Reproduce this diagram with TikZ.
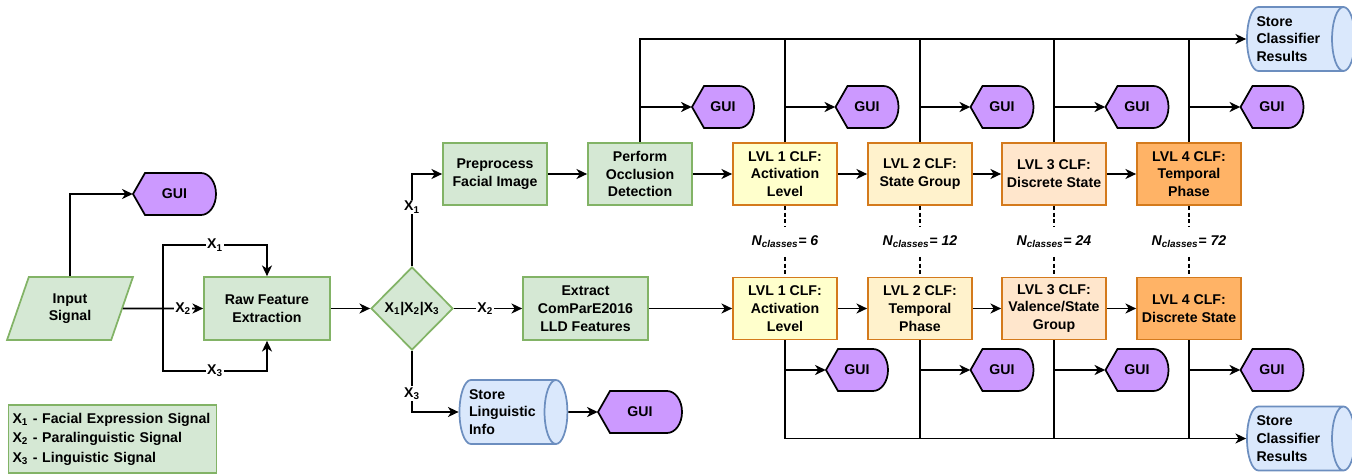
\documentclass[tikz,border=0pt]{standalone}
\usepackage{fontspec}
\setmainfont{Liberation Sans}
\usepackage{xcolor}
\usepackage{tikz}
\usetikzlibrary{shapes.geometric, arrows.meta, positioning, calc}
\definecolor{procfill}{HTML}{D5E8D4}
\definecolor{procdraw}{HTML}{82B366}
\definecolor{guifill}{HTML}{CC99FF}
\definecolor{storefill}{HTML}{DAE8FC}
\definecolor{storedraw}{HTML}{6C8EBF}
\definecolor{clfdraw}{HTML}{D47A1C}
\definecolor{lvlone}{HTML}{FFFFCC}
\definecolor{lvltwo}{HTML}{FFF2CC}
\definecolor{lvlthree}{HTML}{FFE6CC}
\definecolor{lvlfour}{HTML}{FFB366}
\newcommand{\nodefont}{\fontsize{10.6}{13.3}\selectfont}
\tikzset{proc/.style={rectangle,draw=procdraw,fill=procfill,line width=1.3pt,align=center,minimum width=78pt,minimum height=46.5pt,inner sep=2pt},
         clf/.style={rectangle,draw=clfdraw,line width=1.3pt,align=center,minimum width=78pt,minimum height=46.5pt,inner sep=2pt},
         decision/.style={diamond,draw=procdraw,fill=procfill,line width=1.3pt,aspect=1,inner sep=0pt,minimum width=61.5pt,minimum height=62.25pt},
         inputio/.style={trapezium,trapezium left angle=71,trapezium right angle=109,trapezium stretches=true,draw=procdraw,fill=procfill,line width=1.3pt,align=center,minimum width=94.5pt,minimum height=47.25pt},
         store/.style={cylinder,draw=storedraw,fill=storefill,line width=1.3pt,aspect=0.45,minimum height=78.75pt,minimum width=48pt,inner sep=2pt,text width=54pt,align=left},
         guitext/.style={inner sep=0pt,minimum height=31.5pt},
         guishape/.style={draw=black,fill=guifill,line width=1.3pt},
         legendbox/.style={rectangle,draw=procdraw,fill=procfill,line width=1.3pt,align=left,text width=150pt,minimum height=51pt,inner sep=3pt,font=\bfseries\fontsize{10.6}{14.6}\selectfont},
         lbl/.style={fill=white,inner sep=1pt},
         ncls/.style={inner sep=0pt,minimum height=22pt,font=\bfseries\itshape\nodefont},
         classlink/.style={dash pattern=on 3pt off 2pt,line width=1.4pt},
         link/.style={line width=1.4pt},
         arrow/.style={-{Stealth[length=8pt,width=7.5pt,inset=2.4pt]},line width=1.4pt}}
% GUI display shape: name, x, y, width
\newcommand{\guinode}[4]{%
  \draw[guishape] ($(#2,#3)+(-#4/2,0)$) -- ++(12,-21) -- ($(#2,#3)+(#4/2-15,-21)$)
    arc[start angle=-90,end angle=90,x radius=15,y radius=21] -- ($(#2,#3)+(-#4/2+12,21)$) -- cycle;
  \node[guitext,minimum width=#4*0.75pt] (#1) at (#2,#3) {GUI};}

\begin{document}
\begin{tikzpicture}[x=0.75pt,y=-0.75pt,every node/.style={font=\bfseries\nodefont}]
    \useasboundingbox (0,0) rectangle (1352,474);
    % Input and feature extraction
    \node (insig) at (70,308.5) [inputio]{Input\\Signal};
    \guinode{guiin}{174.5}{194}{83}
    \node (rawfe) at (267,308.5) [proc,minimum width=94.5pt,minimum height=47.25pt]{Raw Feature\\Extraction};
    \node (sel) at (412,308.5) [decision]{X\textsubscript{1}|X\textsubscript{2}|X\textsubscript{3}};
    \coordinate (split) at (163,308.5);
    % Modality branches
    \node (prep) at (495,174) [proc]{Preprocess\\Facial Image};
    \node (occl) at (640,174) [proc]{Perform\\Occlusion\\Detection};
    \node (llds) at (585.5,308.5) [proc,minimum width=93.75pt,minimum height=47.25pt]{Extract\\ComParE2016\\LLD Features};
    \node (stling) at (505,412) [store]{Store\\Linguistic\\Info};
    \guinode{guiling}{640}{412}{84}
    % Facial classifier chain
    \node (fc1) at (785,174) [clf,fill=lvlone]{LVL 1 CLF:\\Activation\\Level};
    \node (fc2) at (920,174) [clf,fill=lvltwo]{LVL 2 CLF:\\State Group};
    \node (fc3) at (1054,174) [clf,fill=lvlthree]{LVL 3 CLF:\\Discrete State};
    \node (fc4) at (1189,174) [clf,fill=lvlfour]{LVL 4 CLF:\\Temporal\\Phase};
    % Paralinguistic classifier chain
    \node (pc1) at (785,308.5) [clf,fill=lvlone]{LVL 1 CLF:\\Activation\\Level};
    \node (pc2) at (920,308.5) [clf,fill=lvltwo]{LVL 2 CLF:\\Temporal\\Phase};
    \node (pc3) at (1054,308.5) [clf,fill=lvlthree]{LVL 3 CLF:\\Valence/State\\Group};
    \node (pc4) at (1189,308.5) [clf,fill=lvlfour]{LVL 4 CLF:\\Discrete State};
    % Class counts
    \node (ncA) at (785,242) [ncls]{N\textsubscript{classes}= 6};
    \node (ncB) at (920,242) [ncls]{N\textsubscript{classes}= 12};
    \node (ncC) at (1054,242) [ncls]{N\textsubscript{classes}= 24};
    \node (ncD) at (1189,242) [ncls]{N\textsubscript{classes}= 72};
    % GUIs
    \guinode{guiocc}{723}{107}{62}
    \guinode{guifa}{867}{107}{63}
    \guinode{guifb}{1002}{107}{63}
    \guinode{guifc}{1137}{107}{63}
    \guinode{guifd}{1272}{107}{63}
    \guinode{guipa}{857}{370}{62}
    \guinode{guipb}{1002}{370}{63}
    \guinode{guipc}{1137}{370}{63}
    \guinode{guipd}{1272}{370}{63}
    % Result stores
    \node (stface) at (1292.5,39) [store]{Store\\Classifier\\Results};
    \node (stpara) at (1292.5,438.5) [store]{Store\\Classifier\\Results};
    % Legend
    \node (legend) at (112.5,439) [legendbox]{X\textsubscript{1} - Facial Expression Signal\\X\textsubscript{2} - Paralinguistic Signal\\X\textsubscript{3} - Linguistic Signal};
    % Connectors
    \draw[arrow] (insig.north) |- (guiin.west);
    \draw[arrow] (insig.east) -- node[lbl,pos=0.75]{X\textsubscript{2}} (rawfe.west);
    \draw[arrow] (split) |- node[lbl,pos=0.75]{X\textsubscript{1}} ($(rawfe.north)+(0,-31)$) -- (rawfe.north);
    \draw[arrow] (split) |- node[lbl,pos=0.75]{X\textsubscript{3}} ($(rawfe.south)+(0,30)$) -- (rawfe.south);
    \draw[arrow] (rawfe) -- (sel);
    \draw[arrow] (sel.north) |- node[lbl,pos=0.32]{X\textsubscript{1}} (prep.west);
    \draw[arrow] (sel.east) -- node[lbl,pos=0.46]{X\textsubscript{2}} (llds.west);
    \draw[arrow] (sel.south) |- node[lbl,pos=0.35]{X\textsubscript{3}} (stling.west);
    \draw[arrow] (stling.east) -- (guiling.west);
    \draw[arrow] (prep) -- (occl);
    \draw[arrow] (occl) -- (fc1);
    \draw[arrow] (llds) -- (pc1);
    \draw[arrow] (fc1) -- (fc2);
    \draw[arrow] (fc2) -- (fc3);
    \draw[arrow] (fc3) -- (fc4);
    \draw[arrow] (pc1) -- (pc2);
    \draw[arrow] (pc2) -- (pc3);
    \draw[arrow] (pc3) -- (pc4);
    % Upper bus
    \draw[arrow] (occl.north) |- (stface.west);
    \draw[arrow] (occl.north |- guiocc.west) -- (guiocc.west);
    \draw[link] (fc1.north) -- (fc1.north |- stface.west);
    \draw[link] (fc2.north) -- (fc2.north |- stface.west);
    \draw[link] (fc3.north) -- (fc3.north |- stface.west);
    \draw[link] (fc4.north) -- (fc4.north |- stface.west);
    \draw[arrow] (fc1.north |- guifa.west) -- (guifa.west);
    \draw[arrow] (fc2.north |- guifb.west) -- (guifb.west);
    \draw[arrow] (fc3.north |- guifc.west) -- (guifc.west);
    \draw[arrow] (fc4.north |- guifd.west) -- (guifd.west);
    % Lower bus
    \draw[arrow] (pc1.south) |- (stpara.west);
    \draw[link] (pc2.south) -- (pc2.south |- stpara.west);
    \draw[link] (pc3.south) -- (pc3.south |- stpara.west);
    \draw[link] (pc4.south) -- (pc4.south |- stpara.west);
    \draw[arrow] (pc1.south |- guipa.west) -- (guipa.west);
    \draw[arrow] (pc2.south |- guipb.west) -- (guipb.west);
    \draw[arrow] (pc3.south |- guipc.west) -- (guipc.west);
    \draw[arrow] (pc4.south |- guipd.west) -- (guipd.west);
    % Class count links
    \draw[classlink] (fc1.south) -- (ncA.north);  \draw[classlink] (ncA.south) -- (pc1.north);
    \draw[classlink] (fc2.south) -- (ncB.north);  \draw[classlink] (ncB.south) -- (pc2.north);
    \draw[classlink] (fc3.south) -- (ncC.north);  \draw[classlink] (ncC.south) -- (pc3.north);
    \draw[classlink] (fc4.south) -- (ncD.north);  \draw[classlink] (ncD.south) -- (pc4.north);
\end{tikzpicture}
\end{document}
